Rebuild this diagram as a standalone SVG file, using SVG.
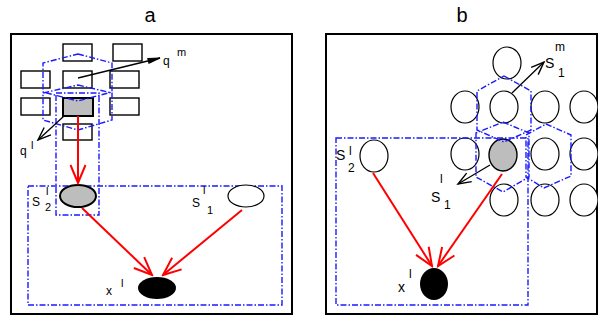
<svg xmlns="http://www.w3.org/2000/svg" width="598" height="320" viewBox="0 0 598 320">
<style>
.frame{fill:none;stroke:#000;stroke-width:2}
.cell{fill:#fff;stroke:#000;stroke-width:1.4}
.dd{fill:none;stroke:#1a1aff;stroke-width:1.4;stroke-dasharray:6 2 1.5 2}
.red{fill:none;stroke:#ff0000;stroke-width:2}
.blk{fill:none;stroke:#000;stroke-width:1.3}
text{font-family:"Liberation Sans",Arial,sans-serif;fill:#000}
.ttl{font-size:20px}
.la{font-size:12px}
.sa{font-size:11px}
.lb{font-size:14px}
.sb{font-size:12px}
</style>
<defs>
<marker id="vr" viewBox="-20 -10 22 20" refX="0" refY="0" markerWidth="22" markerHeight="20" orient="auto" markerUnits="userSpaceOnUse">
<path d="M-18,-7.5 L0,0 L-18,7.5" fill="none" stroke="#ff0000" stroke-width="2"/>
</marker>
<marker id="vb" viewBox="-16 -8 18 16" refX="0" refY="0" markerWidth="18" markerHeight="16" orient="auto" markerUnits="userSpaceOnUse">
<path d="M-13,-5 L0,0 L-13,5" fill="none" stroke="#000" stroke-width="1.4"/>
</marker>
<marker id="vbn" viewBox="-16 -8 18 16" refX="0" refY="0" markerWidth="18" markerHeight="16" orient="auto" markerUnits="userSpaceOnUse">
<path d="M-12,-2.5 L0,0 L-12,2.5 Z" fill="#000" stroke="#000" stroke-width="1"/>
</marker>
</defs>

<text class="ttl" x="150" y="22" text-anchor="middle">a</text>
<text class="ttl" x="462" y="22" text-anchor="middle">b</text>

<rect class="frame" x="11" y="34" width="281" height="280"/>
<rect class="frame" x="326" y="34" width="271" height="280"/>

<g id="a-cells">
<rect class="cell" x="63" y="44" width="29" height="17"/>
<rect class="cell" x="113" y="44" width="29" height="17"/>
<rect class="cell" x="21" y="71" width="29" height="17"/>
<rect class="cell" x="63" y="71" width="29" height="17"/>
<rect class="cell" x="110" y="71" width="29" height="17"/>
<rect class="cell" x="21" y="98" width="29" height="17"/>
<rect class="cell" x="110" y="98" width="29" height="17"/>
<rect class="cell" x="63" y="124" width="29" height="16"/>
</g>
<g id="a-q-l-cell"><rect x="63" y="98" width="30" height="18" fill="#bdbdbd" stroke="#000" stroke-width="2"/></g>

<g id="a-regions">
<polygon class="dd" points="78,54 112,63 112,92 78,101 43,92 43,63"/>
<polygon class="dd" points="78,85 112,93 112,120 78,130 43,120 43,93"/>
<rect class="dd" x="56" y="93" width="43" height="122"/>
<rect class="dd" x="28" y="186" width="254" height="119"/>
</g>

<g id="a-s2"><ellipse cx="78" cy="196" rx="18" ry="11" fill="#bdbdbd" stroke="#000" stroke-width="2"/></g>
<g id="a-s1"><ellipse cx="246" cy="196" rx="18" ry="11" fill="#fff" stroke="#000" stroke-width="1.2"/></g>
<g id="a-x"><ellipse cx="157" cy="288" rx="19" ry="11" fill="#000"/></g>

<g id="b-cells" fill="#fff" stroke="#000" stroke-width="1.2">
<ellipse cx="507" cy="63" rx="14" ry="16"/>
<ellipse cx="465" cy="107" rx="14" ry="16"/>
<ellipse cx="504" cy="107" rx="14" ry="16"/>
<ellipse cx="545" cy="107" rx="14" ry="16"/>
<ellipse cx="584" cy="107" rx="14" ry="16"/>
<ellipse cx="465" cy="154" rx="14" ry="16"/>
<ellipse cx="545" cy="154" rx="14" ry="16"/>
<ellipse cx="584" cy="154" rx="14" ry="16"/>
<ellipse cx="504" cy="200" rx="14" ry="16"/>
<ellipse cx="545" cy="200" rx="14" ry="16"/>
<ellipse cx="584" cy="200" rx="14" ry="16"/>
</g>
<g id="b-s2"><ellipse cx="374" cy="156" rx="14" ry="16" fill="#fff" stroke="#000" stroke-width="1.2"/></g>
<g id="b-gray"><ellipse cx="503" cy="155" rx="14" ry="16" fill="#bdbdbd" stroke="#000" stroke-width="1.4"/></g>
<g id="b-x"><ellipse cx="434" cy="284" rx="14" ry="16" fill="#000"/></g>

<g id="b-regions">
<polygon class="dd" points="504,76 531,91 531,130 504,142 477,130 477,91"/>
<polygon class="dd" points="503,122 529,133 529,177 503,192 476,177 476,133"/>
<polygon class="dd" points="546,124 571,135 571,176 544,188 526,177 526,135"/>
<rect class="dd" x="336" y="138" width="192" height="167"/>
</g>

<g id="connectors">
<line class="red" x1="78" y1="116" x2="78" y2="183" marker-end="url(#vr)"/>
<line class="red" x1="82" y1="208" x2="152" y2="275" marker-end="url(#vr)"/>
<line class="red" x1="242" y1="210" x2="163" y2="275" marker-end="url(#vr)"/>
<line class="blk" x1="78" y1="78" x2="160" y2="58" marker-end="url(#vbn)"/>
<line class="blk" x1="64" y1="116" x2="38" y2="140" marker-end="url(#vb)"/>
<line class="red" x1="373" y1="173" x2="432" y2="266" marker-end="url(#vr)"/>
<line class="red" x1="502" y1="174" x2="438" y2="266" marker-end="url(#vr)"/>
<line class="blk" x1="512" y1="93" x2="544" y2="62" marker-end="url(#vb)"/>
<line class="blk" x1="490" y1="165" x2="458" y2="184" marker-end="url(#vb)"/>
</g>

<g id="labels">
<text class="la" x="163" y="65">q</text><text class="sa" x="177" y="56">m</text>
<text class="la" x="20" y="155">q</text><text class="sa" x="31" y="149">l</text>
<text class="la" x="32" y="206">S</text><text class="sa" x="46" y="195">l</text><text class="sa" x="45" y="211">2</text>
<text class="la" x="192" y="207">S</text><text class="sa" x="203" y="194">l</text><text class="sa" x="207" y="214">1</text>
<text class="la" x="106" y="295">x</text><text class="sa" x="121" y="287">l</text>

<text class="lb" x="336" y="160">S</text><text class="sb" x="349" y="155">l</text><text class="sb" x="348" y="172">2</text>
<text class="lb" x="431" y="202">S</text><text class="sb" x="440" y="183">l</text><text class="sb" x="444" y="209">1</text>
<text class="lb" x="398" y="292">x</text><text class="sb" x="409" y="278">l</text>
<text class="lb" x="545" y="68">S</text><text class="sb" x="558" y="77">1</text><text class="sb" x="555" y="51">m</text>
</g>
</svg>
